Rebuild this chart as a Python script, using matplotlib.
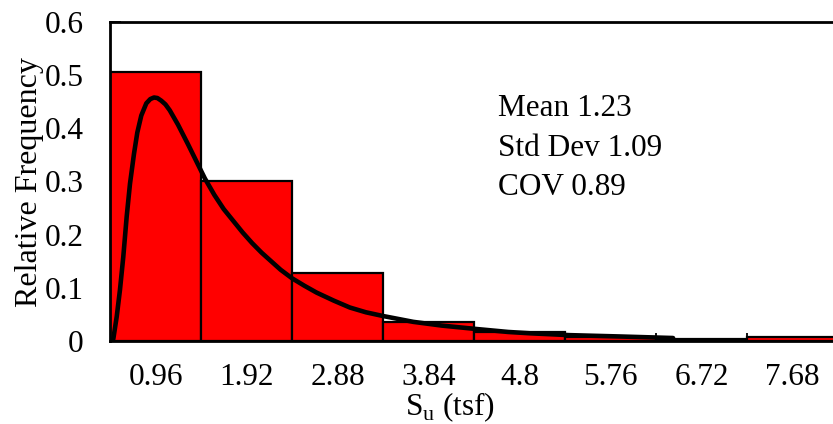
import numpy as np
import matplotlib
matplotlib.use("Agg")
import matplotlib.pyplot as plt

plt.rcParams['font.family'] = ['Liberation Serif', 'DejaVu Serif']
plt.rcParams['mathtext.fontset'] = 'custom'
plt.rcParams['mathtext.rm'] = 'Liberation Serif'

# Histogram of undrained shear strength (bin width 0.96 tsf)
bin_width = 0.96
bin_labels = ["0.96", "1.92", "2.88", "3.84", "4.8", "5.76", "6.72", "7.68"]
rel_freq = [0.506, 0.301, 0.127, 0.035, 0.017, 0.008, 0.003, 0.007]

# Fitted distribution curve (tsf, relative frequency)
fit_x = [0.000, 0.035, 0.071, 0.105, 0.140, 0.176, 0.211, 0.253, 0.288, 0.330,
         0.383, 0.425, 0.464, 0.500, 0.541, 0.585, 0.630, 0.717, 0.823, 0.928,
         1.000, 1.100, 1.200, 1.300, 1.400, 1.500, 1.600, 1.700, 1.800, 1.920,
         2.050, 2.180, 2.360, 2.530, 2.700, 2.880, 3.200, 3.500, 3.840, 4.200,
         4.430, 4.850, 5.380, 5.940]
fit_y = [0.000, 0.004, 0.046, 0.096, 0.158, 0.234, 0.296, 0.352, 0.392, 0.424,
         0.447, 0.455, 0.458, 0.457, 0.452, 0.445, 0.434, 0.407, 0.370, 0.332,
         0.306, 0.275, 0.248, 0.226, 0.204, 0.184, 0.166, 0.150, 0.134, 0.118,
         0.104, 0.091, 0.076, 0.063, 0.054, 0.047, 0.036, 0.029, 0.023, 0.017,
         0.0145, 0.011, 0.0085, 0.0056]

stats_lines = ["Mean 1.23", "Std Dev 1.09", "COV 0.89"]

W, H = 833, 424
fig = plt.figure(figsize=(W / 100, H / 100), dpi=100)
ax = fig.add_axes([110 / W, 1 - 341 / H, 728 / W, 319 / H])

n = len(rel_freq)
edges = np.arange(n + 1) * bin_width
ax.bar(edges[:-1], rel_freq, width=bin_width, align='edge',
       color='#ff0000', edgecolor='black', linewidth=1.6, zorder=2)
ax.plot(fit_x, fit_y, color='black', linewidth=3.3, solid_joinstyle='round',
        solid_capstyle='round', zorder=3)

ax.set_xlim(0, n * bin_width)
ax.set_ylim(0, 0.6)

# bin edges carry the tick marks, bin centres carry the labels
ax.set_xticks(edges[1:-1])
ax.set_xticklabels([])
ax.set_xticks(edges[:-1] + bin_width / 2, minor=True)
ax.set_xticklabels(bin_labels, minor=True)
ax.tick_params(axis='x', which='major', direction='in', length=6, width=1.3)
ax.tick_params(axis='x', which='minor', length=0, pad=16, labelsize=22.5)

ax.set_yticks(np.arange(0, 0.61, 0.1))
ax.set_yticklabels(["0", "0.1", "0.2", "0.3", "0.4", "0.5", "0.6"])
ax.tick_params(axis='y', direction='in', length=8, width=1.3, pad=19, labelsize=22.5)

for s in ax.spines.values():
    s.set_linewidth(2.0)
    s.set_zorder(4)

fig.text(30 / W, 1 - 182 / H, "Relative Frequency", rotation=90,
         ha='center', va='center', fontsize=23)
fig.text(450 / W, 1 - 415 / H, r"S$_{\mathregular{u}}$ (tsf)",
         ha='center', va='baseline', fontsize=22.5)

for i, line in enumerate(stats_lines):
    fig.text(498 / W, 1 - (116 + 39.5 * i) / H, line,
             ha='left', va='baseline', fontsize=22.5)

fig.savefig("out.png", dpi=100)
